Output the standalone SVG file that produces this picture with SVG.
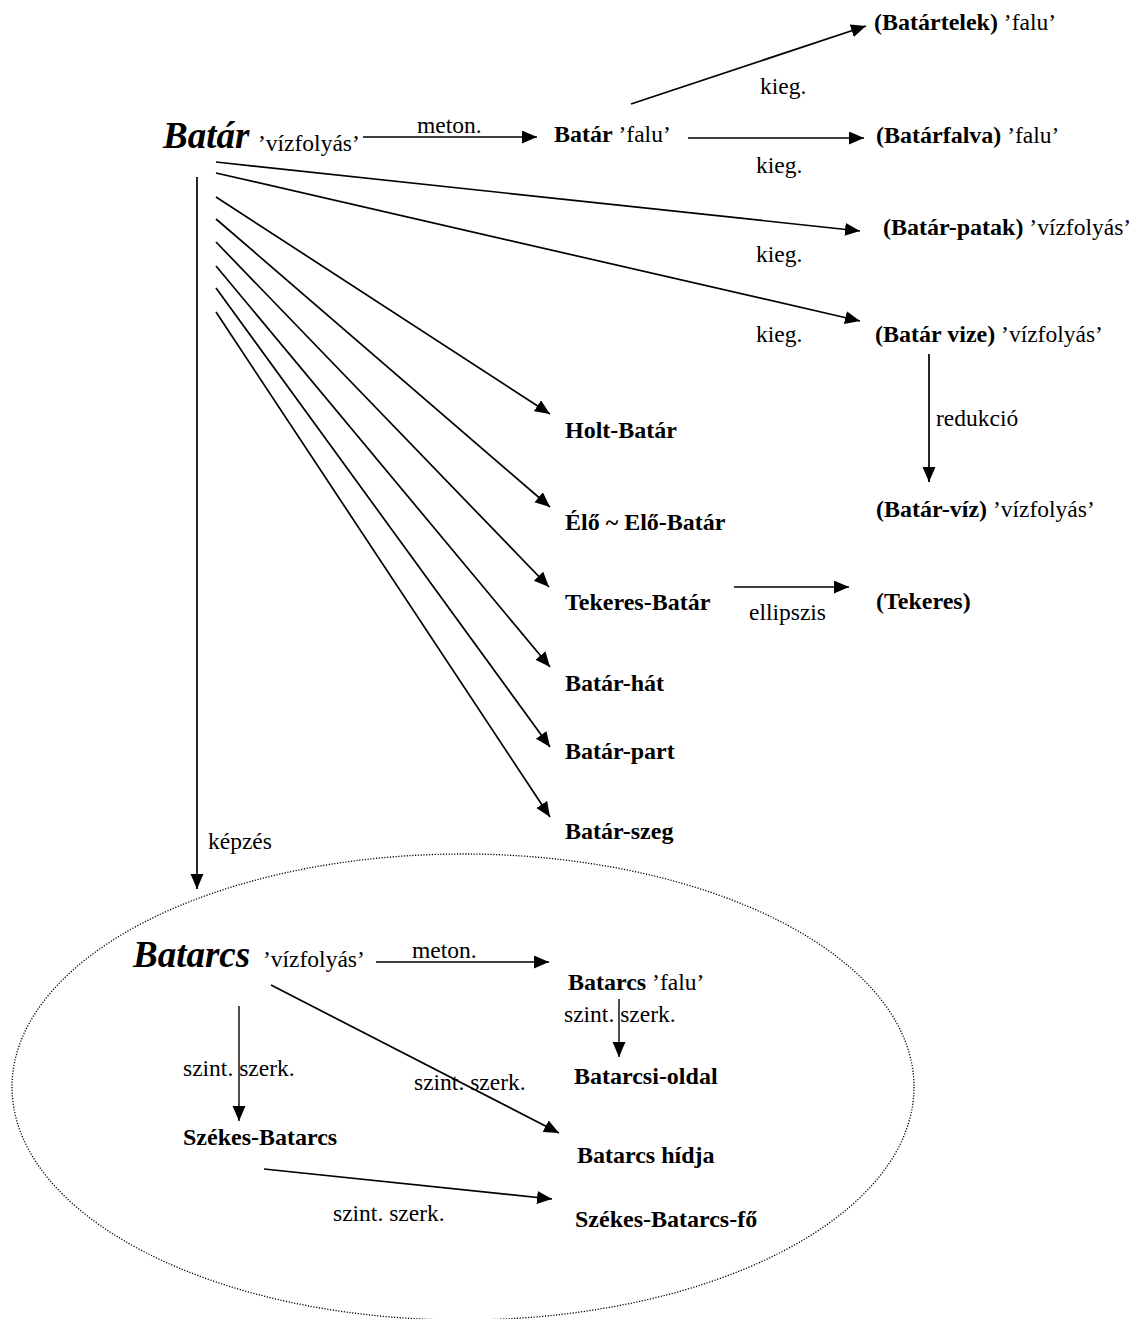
<svg xmlns="http://www.w3.org/2000/svg" width="1132" height="1319" viewBox="0 0 1132 1319">
<style>
text{font-family:"Liberation Serif","Times New Roman",serif;fill:#000}
.r{font-size:23.5px}
.b{font-size:24px;font-weight:bold}
.big{font-size:37px;font-weight:bold;font-style:italic}
.l{stroke:#000;stroke-width:1.7;fill:none;marker-end:url(#ah)}
.t{stroke:#000;stroke-width:1.4;fill:none;marker-end:url(#ah)}
</style>
<defs>
<marker id="ah" markerUnits="userSpaceOnUse" markerWidth="16" markerHeight="14" refX="15" refY="6.5" orient="auto"><path d="M0,0 L15,6.5 L0,13 z" fill="#000"/></marker>
</defs>
<g id="ellipse"><ellipse cx="463" cy="1087" rx="451" ry="233" fill="none" stroke="#000" stroke-width="1.3" stroke-dasharray="1.2 1.6"/></g>
<g id="connectors">
<line class="l" x1="363" y1="137" x2="537" y2="137"/>
<line class="l" x1="631" y1="104" x2="866" y2="26"/>
<line class="l" x1="688" y1="138" x2="864" y2="138"/>
<line class="l" x1="216" y1="162" x2="860" y2="231"/>
<line class="l" x1="216" y1="173" x2="860" y2="321"/>
<line class="l" x1="929" y1="354" x2="929" y2="482"/>
<line class="l" x1="216" y1="197" x2="550" y2="414"/>
<line class="l" x1="216" y1="219" x2="550" y2="507"/>
<line class="l" x1="216" y1="242" x2="549" y2="587"/>
<line class="l" x1="734" y1="587" x2="849" y2="587"/>
<line class="l" x1="216" y1="266" x2="550" y2="667"/>
<line class="l" x1="216" y1="288" x2="550" y2="747"/>
<line class="l" x1="216" y1="312" x2="550" y2="817"/>
<line class="l" x1="197" y1="177" x2="197" y2="889"/>
<line class="l" x1="376" y1="962" x2="549" y2="962"/>
<line class="t" x1="619" y1="999" x2="619" y2="1057"/>
<line class="t" x1="239" y1="1006" x2="239" y2="1121"/>
<line class="l" x1="271" y1="985" x2="559" y2="1133"/>
<line class="l" x1="264" y1="1169" x2="552" y2="1199"/>
</g>
<g id="n-batar"><text x="163" y="148" class="big">Batár</text><text x="258" y="151" class="r">’vízfolyás’</text></g>
<g id="lbl-meton1"><text x="417" y="133" class="r">meton.</text></g>
<g id="n-batar-falu"><text x="554" y="142"><tspan class="b">Batár</tspan><tspan class="r"> ’falu’</tspan></text></g>
<g id="n-batartelek"><text x="874" y="30"><tspan class="b">(Batártelek)</tspan><tspan class="r"> ’falu’</tspan></text></g>
<g id="lbl-kieg1"><text x="760" y="94" class="r">kieg.</text></g>
<g id="n-batarfalva"><text x="876" y="143"><tspan class="b">(Batárfalva)</tspan><tspan class="r"> ’falu’</tspan></text></g>
<g id="lbl-kieg2"><text x="756" y="173" class="r">kieg.</text></g>
<g id="n-patak"><text x="883" y="235"><tspan class="b">(Batár-patak)</tspan><tspan class="r"> ’vízfolyás’</tspan></text></g>
<g id="lbl-kieg3"><text x="756" y="262" class="r">kieg.</text></g>
<g id="n-vize"><text x="875" y="342"><tspan class="b">(Batár vize)</tspan><tspan class="r"> ’vízfolyás’</tspan></text></g>
<g id="lbl-kieg4"><text x="756" y="342" class="r">kieg.</text></g>
<g id="lbl-redukcio"><text x="936" y="426" class="r">redukció</text></g>
<g id="n-viz"><text x="876" y="517"><tspan class="b">(Batár-víz)</tspan><tspan class="r"> ’vízfolyás’</tspan></text></g>
<g id="n-holt"><text x="565" y="438" class="b">Holt-Batár</text></g>
<g id="n-elo"><text x="565" y="530" class="b">Élő ~ Elő-Batár</text></g>
<g id="n-tekeres-batar"><text x="565" y="610" class="b">Tekeres-Batár</text></g>
<g id="lbl-ellipszis"><text x="749" y="620" class="r">ellipszis</text></g>
<g id="n-tekeres"><text x="876" y="609" class="b">(Tekeres)</text></g>
<g id="n-hat"><text x="565" y="691" class="b">Batár-hát</text></g>
<g id="n-part"><text x="565" y="759" class="b">Batár-part</text></g>
<g id="n-szeg"><text x="565" y="839" class="b">Batár-szeg</text></g>
<g id="lbl-kepzes"><text x="208" y="849" class="r">képzés</text></g>
<g id="n-batarcs"><text x="133" y="967" class="big">Batarcs</text><text x="263" y="967" class="r">’vízfolyás’</text></g>
<g id="lbl-meton2"><text x="412" y="958" class="r">meton.</text></g>
<g id="n-batarcs-falu"><text x="568" y="990"><tspan class="b">Batarcs</tspan><tspan class="r"> ’falu’</tspan></text></g>
<g id="lbl-szint1"><text x="564" y="1022" class="r">szint. szerk.</text></g>
<g id="n-oldal"><text x="574" y="1084" class="b">Batarcsi-oldal</text></g>
<g id="lbl-szint2"><text x="183" y="1076" class="r">szint. szerk.</text></g>
<g id="lbl-szint3"><text x="414" y="1090" class="r">szint. szerk.</text></g>
<g id="n-szekes"><text x="183" y="1145" class="b">Székes-Batarcs</text></g>
<g id="n-hidja"><text x="577" y="1163" class="b">Batarcs hídja</text></g>
<g id="lbl-szint4"><text x="333" y="1221" class="r">szint. szerk.</text></g>
<g id="n-fo"><text x="575" y="1227" class="b">Székes-Batarcs-fő</text></g>
</svg>
